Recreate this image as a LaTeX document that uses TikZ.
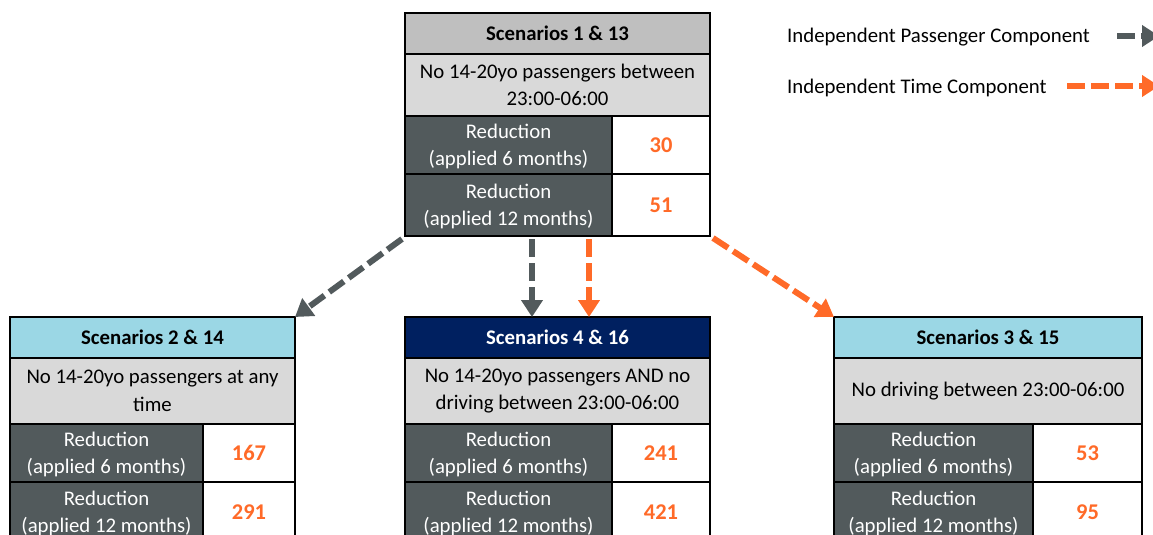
\documentclass[tikz,border=0pt]{standalone}
\usepackage{fontspec}
\setmainfont{Carlito}
\usetikzlibrary{arrows.meta}

\definecolor{slate}{HTML}{525A5C}
\definecolor{hdrgray}{HTML}{BFBFBF}
\definecolor{descgray}{HTML}{D9D9D9}
\definecolor{hdrcyan}{HTML}{9BD7E5}
\definecolor{hdrnavy}{HTML}{002060}
\definecolor{accent}{HTML}{FF6A28}

\tikzset{
  cell/.style={draw=black, line width=2.5pt, anchor=north west, inner sep=0pt,
    outer sep=0pt, align=center, font=\fontsize{20.8}{27.5}\selectfont},
  hdr/.style={cell, font=\fontsize{20.8}{27.5}\selectfont\bfseries},
  desc/.style={cell, fill=descgray},
  lbl/.style={cell, fill=slate, text=white, text depth=-1pt},
  val/.style={cell, fill=white, text=accent, text depth=-3pt,
    font=\fontsize{22.5}{27}\selectfont\bfseries},
  legtext/.style={anchor=base west, inner sep=0pt, font=\fontsize{20.8}{25}\selectfont},
  link/.style={line width=6pt, dash pattern=on 18pt off 6pt,
    -{Triangle[width=21pt,length=17pt]}},
  passenger/.style={link, draw=slate},
  timecomp/.style={link, draw=accent},
}

\begin{document}
\begin{tikzpicture}[x=1pt, y=-1pt]
\useasboundingbox (0,0) rectangle (1153,535);
\clip (0,0) rectangle (1153,535);

% Scenarios 1 & 13
\node[hdr, fill=hdrgray, minimum width=305pt, minimum height=41pt] (t-title) at (405,13) {Scenarios 1 \& 13};
\node[desc, minimum width=305pt, minimum height=62pt] (t-desc) at (405,54) {No 14-20yo passengers between\\23:00-06:00};
\node[lbl, minimum width=207pt, minimum height=58pt] (t-l1) at (405,116) {Reduction\\(applied 6 months)};
\node[val, minimum width=98pt, minimum height=58pt] (t-v1) at (612,116) {30};
\node[lbl, minimum width=207pt, minimum height=62pt] (t-l2) at (405,174) {Reduction\\(applied 12 months)};
\node[val, minimum width=98pt, minimum height=62pt] (t-v2) at (612,174) {51};

% Scenarios 2 & 14
\node[hdr, fill=hdrcyan, minimum width=285pt, minimum height=41pt] (l-title) at (10,317) {Scenarios 2 \& 14};
\node[desc, minimum width=285pt, minimum height=66pt] (l-desc) at (10,358) {No 14-20yo passengers at any\\time};
\node[lbl, minimum width=193pt, minimum height=58pt] (l-l1) at (10,424) {Reduction\\(applied 6 months)};
\node[val, minimum width=92pt, minimum height=58pt] (l-v1) at (203,424) {167};
\node[lbl, minimum width=193pt, minimum height=60pt] (l-l2) at (10,482) {Reduction\\(applied 12 months)};
\node[val, minimum width=92pt, minimum height=60pt] (l-v2) at (203,482) {291};

% Scenarios 4 & 16
\node[hdr, fill=hdrnavy, text=white, minimum width=305pt, minimum height=41pt] (m-title) at (405,317) {Scenarios 4 \& 16};
\node[desc, minimum width=305pt, minimum height=66pt] (m-desc) at (405,358) {No 14-20yo passengers AND no\\driving between 23:00-06:00};
\node[lbl, minimum width=207pt, minimum height=58pt] (m-l1) at (405,424) {Reduction\\(applied 6 months)};
\node[val, minimum width=98pt, minimum height=58pt] (m-v1) at (612,424) {241};
\node[lbl, minimum width=207pt, minimum height=60pt] (m-l2) at (405,482) {Reduction\\(applied 12 months)};
\node[val, minimum width=98pt, minimum height=60pt] (m-v2) at (612,482) {421};

% Scenarios 3 & 15
\node[hdr, fill=hdrcyan, minimum width=308pt, minimum height=41pt] (r-title) at (834,317) {Scenarios 3 \& 15};
\node[desc, minimum width=308pt, minimum height=66pt] (r-desc) at (834,358) {No driving between 23:00-06:00};
\node[lbl, minimum width=199pt, minimum height=58pt] (r-l1) at (834,424) {Reduction\\(applied 6 months)};
\node[val, minimum width=109pt, minimum height=58pt] (r-v1) at (1033,424) {53};
\node[lbl, minimum width=199pt, minimum height=60pt] (r-l2) at (834,482) {Reduction\\(applied 12 months)};
\node[val, minimum width=109pt, minimum height=60pt] (r-v2) at (1033,482) {95};

% connectors
\coordinate (gdown) at (532,239);
\coordinate (odown) at (589,239);
\draw[passenger] ([shift={(-3pt,-3pt)}]t-l2.south west) -- (l-title.north east);
\draw[passenger] (gdown) -- (gdown |- m-title.north);
\draw[timecomp] (odown) -- (odown |- m-title.north);
\draw[timecomp] ([shift={(3pt,-2pt)}]t-v2.south east) -- (r-title.north west);

% legend
\node[legtext] (leg-p) at (787,43) {Independent Passenger Component};
\node[legtext] (leg-t) at (787,93) {Independent Time Component};
\coordinate (leg-p-a) at (1117,36);
\coordinate (leg-p-b) at (1159,36);
\coordinate (leg-t-a) at (1067,86);
\coordinate (leg-t-b) at (1159,86);
\draw[passenger, line width=5.5pt] (leg-p-a) -- (leg-p-b);
\draw[timecomp, line width=5.5pt] (leg-t-a) -- (leg-t-b);
\end{tikzpicture}
\end{document}
